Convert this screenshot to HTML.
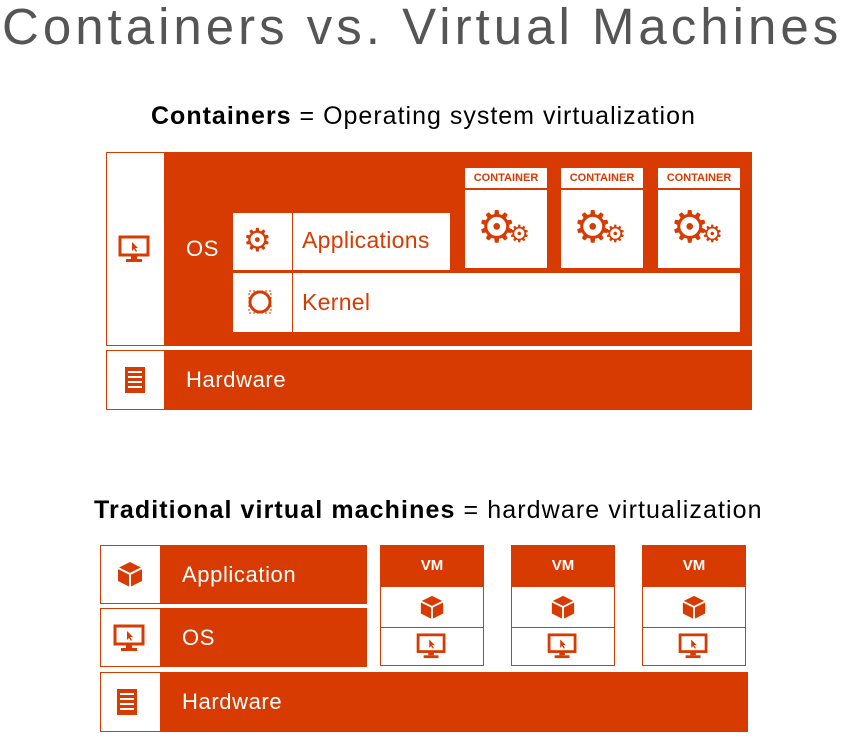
<!DOCTYPE html>
<html><head><style>
body{margin:0;width:844px;height:746px;background:#fff;position:relative;overflow:hidden;font-family:"Liberation Sans",sans-serif}
.a{position:absolute;box-sizing:border-box}
.o{background:#D83B01}
.w{background:#fff;border:1px solid #D83B01}
.t{color:#fff;font-size:22px;letter-spacing:0.6px}
.r{color:#D83B01}
</style></head><body>
<div class="a" style="left:2px;top:-3px;font-size:51px;color:#555;letter-spacing:4px;white-space:nowrap">Containers vs. Virtual Machines</div>
<div class="a" style="left:151px;top:102px;font-size:25px;color:#000;white-space:nowrap;letter-spacing:1px"><b>Containers</b> = Operating system virtualization</div>

<div class="a w" style="left:106px;top:152px;width:646px;height:194px"></div>
<div class="a o" style="left:164px;top:152px;width:588px;height:194px"></div>
<svg class="a" style="left:118px;top:235px" width="34" height="28" viewBox="0 0 34 28"><rect x="2" y="2" width="28" height="18" fill="none" stroke="#D83B01" stroke-width="3"/><rect x="13" y="20" width="6" height="4" fill="#D83B01"/><rect x="8" y="24" width="16" height="3" fill="#D83B01"/><path d="M14 7l0 9l2-2l2 3l1-1l-2-3l3 0z" fill="#D83B01"/></svg>
<div class="a t" style="left:186px;top:236px">OS</div>
<div class="a" style="left:233px;top:213px;width:217px;height:57px;background:#fff"></div>
<div class="a o" style="left:292px;top:213px;width:1px;height:57px"></div>
<div class="a r" style="left:302px;top:227px;font-size:23px;letter-spacing:0.3px">Applications</div>
<div class="a r" style="left:243px;top:222px;font-size:32px;line-height:36px">⚙</div>
<div class="a" style="left:233px;top:273px;width:507px;height:59px;background:#fff"></div>
<div class="a o" style="left:292px;top:273px;width:1px;height:59px"></div>
<div class="a r" style="left:302px;top:289px;font-size:23px;letter-spacing:0.3px">Kernel</div>
<svg class="a" style="left:244px;top:286px" width="32" height="32"><circle cx="16" cy="16" r="10" fill="none" stroke="#D83B01" stroke-width="3"/><rect x="5" y="5" width="22" height="22" fill="none" stroke="#D83B01" stroke-width="1" stroke-dasharray="2 2"/></svg>

<div class="a" style="left:465px;top:168px;width:82px;height:100px;background:#fff"></div>
<div class="a" style="left:561px;top:168px;width:82px;height:100px;background:#fff"></div>
<div class="a" style="left:658px;top:168px;width:82px;height:100px;background:#fff"></div>
<div class="a o" style="left:465px;top:188px;width:275px;height:2px"></div>
<div class="a r" style="left:465px;top:172px;width:82px;text-align:center;font-size:11px;font-weight:bold">CONTAINER</div>
<div class="a r" style="left:561px;top:172px;width:82px;text-align:center;font-size:11px;font-weight:bold">CONTAINER</div>
<div class="a r" style="left:658px;top:172px;width:82px;text-align:center;font-size:11px;font-weight:bold">CONTAINER</div>
<div class="a r" style="left:477px;top:204px;font-size:44px;line-height:48px">⚙<span style="font-size:24px;margin-left:-8px">⚙</span></div>
<div class="a r" style="left:573px;top:204px;font-size:44px;line-height:48px">⚙<span style="font-size:24px;margin-left:-8px">⚙</span></div>
<div class="a r" style="left:670px;top:204px;font-size:44px;line-height:48px">⚙<span style="font-size:24px;margin-left:-8px">⚙</span></div>

<div class="a w" style="left:106px;top:350px;width:646px;height:60px"></div>
<div class="a o" style="left:164px;top:350px;width:588px;height:60px"></div>
<svg class="a" style="left:124px;top:366px" width="22" height="28"><rect x="1" y="1" width="20" height="26" fill="#D83B01"/><g stroke="#fff" stroke-width="2"><line x1="4" y1="6" x2="18" y2="6"/><line x1="4" y1="11" x2="18" y2="11"/><line x1="4" y1="16" x2="18" y2="16"/><line x1="4" y1="21" x2="18" y2="21"/></g></svg>
<div class="a t" style="left:186px;top:367px">Hardware</div>

<div class="a" style="left:94px;top:496px;font-size:25px;color:#000;white-space:nowrap;letter-spacing:1.1px"><b>Traditional virtual machines</b> = hardware virtualization</div>

<div class="a w" style="left:100px;top:545px;width:267px;height:59px"></div>
<div class="a o" style="left:160px;top:545px;width:207px;height:59px"></div>
<div class="a t" style="left:182px;top:562px">Application</div>
<div class="a w" style="left:100px;top:608px;width:267px;height:59px"></div>
<div class="a o" style="left:160px;top:608px;width:207px;height:59px"></div>
<div class="a t" style="left:182px;top:625px">OS</div>
<div class="a w" style="left:100px;top:672px;width:648px;height:60px"></div>
<div class="a o" style="left:160px;top:672px;width:588px;height:60px"></div>
<div class="a t" style="left:182px;top:689px">Hardware</div>
<svg class="a" style="left:116px;top:560px" width="28" height="28" viewBox="0 0 28 28"><path d="M14 2L26 8L26 21L14 27L2 21L2 8Z" fill="#D83B01"/><path d="M2 8L14 14L26 8M14 14L14 27" stroke="#fff" stroke-width="2" fill="none"/></svg>
<svg class="a" style="left:113px;top:624px" width="34" height="28" viewBox="0 0 34 28"><rect x="2" y="2" width="28" height="18" fill="none" stroke="#D83B01" stroke-width="3"/><rect x="13" y="20" width="6" height="4" fill="#D83B01"/><rect x="8" y="24" width="16" height="3" fill="#D83B01"/><path d="M14 7l0 9l2-2l2 3l1-1l-2-3l3 0z" fill="#D83B01"/></svg>
<svg class="a" style="left:116px;top:688px" width="22" height="28"><rect x="1" y="1" width="20" height="26" fill="#D83B01"/><g stroke="#fff" stroke-width="2"><line x1="4" y1="6" x2="18" y2="6"/><line x1="4" y1="11" x2="18" y2="11"/><line x1="4" y1="16" x2="18" y2="16"/><line x1="4" y1="21" x2="18" y2="21"/></g></svg>

<div class="a w" style="left:380px;top:545px;width:104px;height:121px"></div>
<div class="a o" style="left:380px;top:545px;width:104px;height:42px;color:#fff;font-weight:bold;font-size:15px;text-align:center;line-height:42px">VM</div>
<div class="a o" style="left:380px;top:627px;width:104px;height:1px"></div>
<svg class="a" style="left:419px;top:594px" width="26" height="26" viewBox="0 0 28 28"><path d="M14 2L26 8L26 21L14 27L2 21L2 8Z" fill="#D83B01"/><path d="M2 8L14 14L26 8M14 14L14 27" stroke="#fff" stroke-width="2" fill="none"/></svg>
<svg class="a" style="left:416px;top:633px" width="32" height="26" viewBox="0 0 34 28"><rect x="2" y="2" width="28" height="18" fill="none" stroke="#D83B01" stroke-width="3"/><rect x="13" y="20" width="6" height="4" fill="#D83B01"/><rect x="8" y="24" width="16" height="3" fill="#D83B01"/><path d="M14 7l0 9l2-2l2 3l1-1l-2-3l3 0z" fill="#D83B01"/></svg>

<div class="a w" style="left:511px;top:545px;width:104px;height:121px"></div>
<div class="a o" style="left:511px;top:545px;width:104px;height:42px;color:#fff;font-weight:bold;font-size:15px;text-align:center;line-height:42px">VM</div>
<div class="a o" style="left:511px;top:627px;width:104px;height:1px"></div>
<svg class="a" style="left:550px;top:594px" width="26" height="26" viewBox="0 0 28 28"><path d="M14 2L26 8L26 21L14 27L2 21L2 8Z" fill="#D83B01"/><path d="M2 8L14 14L26 8M14 14L14 27" stroke="#fff" stroke-width="2" fill="none"/></svg>
<svg class="a" style="left:547px;top:633px" width="32" height="26" viewBox="0 0 34 28"><rect x="2" y="2" width="28" height="18" fill="none" stroke="#D83B01" stroke-width="3"/><rect x="13" y="20" width="6" height="4" fill="#D83B01"/><rect x="8" y="24" width="16" height="3" fill="#D83B01"/><path d="M14 7l0 9l2-2l2 3l1-1l-2-3l3 0z" fill="#D83B01"/></svg>

<div class="a w" style="left:642px;top:545px;width:104px;height:121px"></div>
<div class="a o" style="left:642px;top:545px;width:104px;height:42px;color:#fff;font-weight:bold;font-size:15px;text-align:center;line-height:42px">VM</div>
<div class="a o" style="left:642px;top:627px;width:104px;height:1px"></div>
<svg class="a" style="left:681px;top:594px" width="26" height="26" viewBox="0 0 28 28"><path d="M14 2L26 8L26 21L14 27L2 21L2 8Z" fill="#D83B01"/><path d="M2 8L14 14L26 8M14 14L14 27" stroke="#fff" stroke-width="2" fill="none"/></svg>
<svg class="a" style="left:678px;top:633px" width="32" height="26" viewBox="0 0 34 28"><rect x="2" y="2" width="28" height="18" fill="none" stroke="#D83B01" stroke-width="3"/><rect x="13" y="20" width="6" height="4" fill="#D83B01"/><rect x="8" y="24" width="16" height="3" fill="#D83B01"/><path d="M14 7l0 9l2-2l2 3l1-1l-2-3l3 0z" fill="#D83B01"/></svg>
</body></html>
